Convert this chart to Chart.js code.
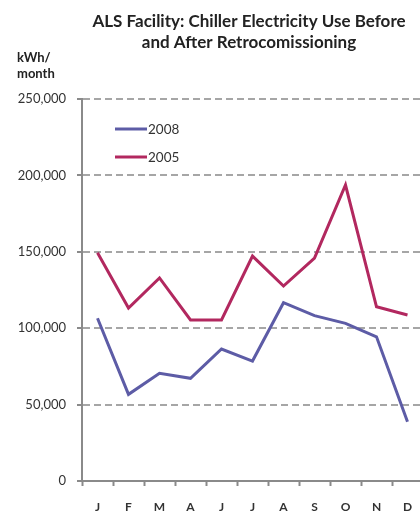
<!DOCTYPE html>
<html>
<head>
<meta charset="utf-8">
<script src="https://cdn.jsdelivr.net/npm/chart.js@4/dist/chart.umd.min.js"></script>
<style>
  html, body { margin: 0; padding: 0; background: #fff; overflow: hidden; }
  #wrap { width: 430px; height: 513px; }
</style>
</head>
<body>
<div id="wrap"><canvas id="chart" width="430" height="513"></canvas></div>
<script>
/* ── Data ── */
const months    = ['J', 'F', 'M', 'A', 'J', 'J', 'A', 'S', 'O', 'N', 'D'];
const use2008   = [106500, 56700, 70500, 67200, 86400, 78500, 116700, 108200, 103200, 94400, 38800];
const use2005   = [149400, 113200, 132900, 105400, 105400, 147200, 127600, 145900, 193700, 114000, 108600];
const yTicks    = [0, 50000, 100000, 150000, 200000, 250000];
const titleLines = ['ALS Facility: Chiller Electricity Use Before', 'and After Retrocomissioning'];
const unitLines  = ['kWh/', 'month'];

const BLUE = '#5d5ca6';
const RED  = '#b2285f';
const FONT = 'Lato, "Open Sans", sans-serif';

/* ── Title, unit label and in-plot legend ── */
const decor = {
  id: 'decor',
  afterDraw(chart) {
    const ctx = chart.ctx;
    ctx.save();
    ctx.fillStyle = '#222';
    ctx.textBaseline = 'alphabetic';
    ctx.textAlign = 'center';
    ctx.font = 'bold 17px ' + FONT;
    titleLines.forEach((t, i) => ctx.fillText(t, 249, 27 + i * 21));

    ctx.textAlign = 'left';
    ctx.font = 'bold 13px ' + FONT;
    unitLines.forEach((t, i) => ctx.fillText(t, 17, 62 + i * 16));

    // legend inside plot
    ctx.font = '13.5px ' + FONT;
    ctx.textBaseline = 'middle';
    chart.data.datasets.forEach((ds, i) => {
      const y = 129 + i * 28;
      ctx.strokeStyle = ds.borderColor;
      ctx.lineWidth = 3;
      ctx.beginPath();
      ctx.moveTo(115, y);
      ctx.lineTo(147, y);
      ctx.stroke();
      ctx.fillStyle = '#333';
      ctx.fillText(ds.label, 148, y + 1);
    });
    ctx.restore();
  }
};

new Chart(document.getElementById('chart'), {
  type: 'line',
  data: {
    labels: months,
    datasets: [
      { label: '2008', data: use2008, borderColor: BLUE, borderWidth: 3, pointRadius: 0, tension: 0 },
      { label: '2005', data: use2005, borderColor: RED,  borderWidth: 3, pointRadius: 0, tension: 0 },
    ],
  },
  options: {
    responsive: false,
    animation: false,
    layout: { padding: { top: 99, right: 7, left: 0, bottom: 0 } },
    plugins: { legend: { display: false }, title: { display: false }, tooltip: { enabled: false } },
    scales: {
      x: {
        offset: true,
        grid: { offset: true, drawOnChartArea: false, drawTicks: true, tickLength: 5, tickColor: '#8a8a8a', tickWidth: 2 },
        border: { color: '#8a8a8a', width: 2 },
        ticks: { color: '#333', font: { family: FONT, size: 12, weight: 'bold' }, padding: 14, maxRotation: 0, autoSkip: false },
        afterFit: s => { s.height = 32; },
      },
      y: {
        min: 0,
        max: 250000,
        afterBuildTicks: s => { s.ticks = yTicks.map(v => ({ value: v })); },
        grid: {
          color: ctx => ctx.tick && ctx.tick.value === 0 ? 'rgba(0,0,0,0)' : '#a6a6a6',
          lineWidth: 2,
          tickLength: 5,
          tickColor: '#8a8a8a',
          tickWidth: 2,
          tickBorderDash: [],
        },
        border: { color: '#8a8a8a', width: 2, dash: [7, 4] },
        ticks: {
          color: '#333',
          font: { family: FONT, size: 13 },
          padding: 11,
          callback: v => v.toLocaleString('en-US'),
        },
        afterFit: s => { s.width = 82; },
      },
    },
  },
  plugins: [decor],
});
</script>
</body>
</html>
